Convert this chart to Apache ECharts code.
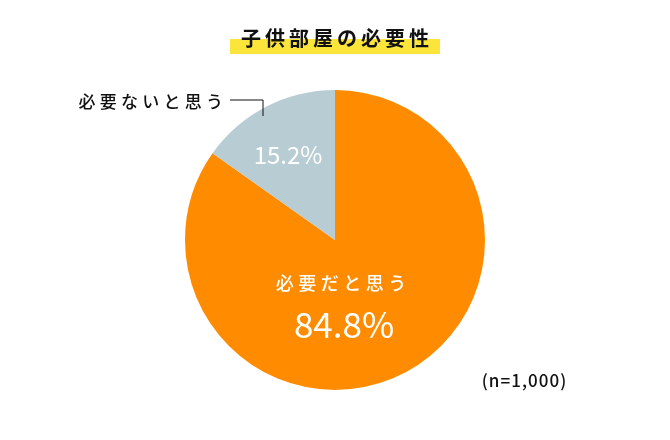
<!DOCTYPE html>
<html><head><meta charset="utf-8">
<script src="https://cdn.jsdelivr.net/npm/echarts@6/dist/echarts.min.js"></script>
<style>html,body{margin:0;padding:0;background:#fff}#c{width:670px;height:440px}</style>
</head><body><div id="c"></div>
<script>
const title = '子供部屋の必要性';
const categories = ['必要だと思う', '必要ないと思う'];
const values = [84.8, 15.2];
const colors = ['#FF8C00', '#B8CCD4'];
const note = '(n=1,000)';

// emulate letter spacing
const sp = (s, ch) => Array.from(s).join(ch);

const chart = echarts.init(document.getElementById('c'), null, {renderer: 'canvas'});
const FF = '"Noto Sans CJK JP", "Noto Sans", sans-serif';
chart.setOption({
  animation: false,
  backgroundColor: '#fff',
  series: [{
    type: 'pie',
    center: [335, 240],
    radius: [0, 150],
    startAngle: 90,
    clockwise: true,
    label: {show: false},
    labelLine: {show: false},
    itemStyle: {borderWidth: 0},
    emphasis: {disabled: true},
    data: categories.map((c, i) => ({name: c, value: values[i], itemStyle: {color: colors[i]}}))
  }],
  graphic: [
    {type: 'rect', shape: {x: 230, y: 39, width: 210, height: 15}, style: {fill: '#FBE53B'}, z: 1},
    {type: 'text', x: 335, y: 38, z: 2, style: {text: sp(title, '\u2009'), font: 'bold 20px ' + FF, fill: '#111', align: 'center', verticalAlign: 'middle'}},
    {type: 'text', x: 223, y: 102, style: {text: sp(categories[1], '\u2005'), font: '500 17px ' + FF, fill: '#111', align: 'right', verticalAlign: 'middle'}},
    {type: 'polyline', shape: {points: [[230, 100], [263, 100], [263, 116]]}, style: {stroke: '#111', lineWidth: 1, fill: null}, z: 5},
    {type: 'text', x: 288, y: 155, z: 5, style: {text: values[1].toFixed(1) + '%', font: '24px ' + FF, fill: '#fff', align: 'center', verticalAlign: 'middle'}},
    {type: 'text', x: 341, y: 283, z: 5, style: {text: sp(categories[0], '\u2005'), font: '500 18px ' + FF, fill: '#fff', align: 'center', verticalAlign: 'middle'}},
    {type: 'text', x: 344, y: 325, z: 5, style: {text: values[0].toFixed(1) + '%', font: '35px ' + FF, fill: '#fff', align: 'center', verticalAlign: 'middle'}},
    {type: 'text', x: 524, y: 381, style: {text: sp(note, '\u200A'), font: '500 17px ' + FF, fill: '#111', align: 'center', verticalAlign: 'middle'}}
  ]
});
</script></body></html>
